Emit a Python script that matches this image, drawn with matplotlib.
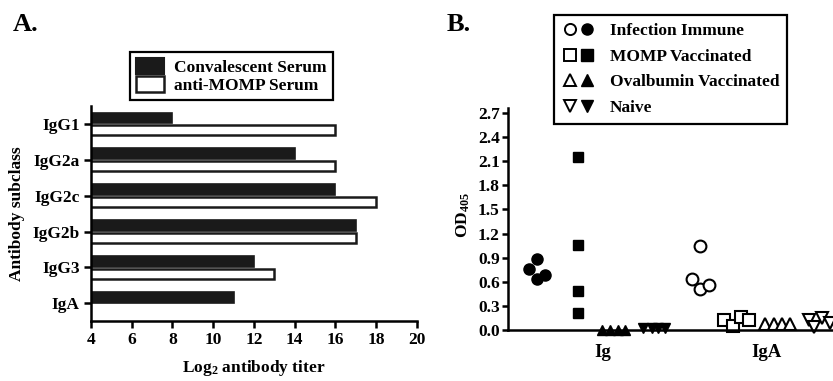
import numpy as np
import matplotlib
matplotlib.use("Agg")
import matplotlib.pyplot as plt
from matplotlib.patches import Patch
from matplotlib.lines import Line2D
from matplotlib.legend_handler import HandlerTuple

plt.rcParams['font.family'] = ['Liberation Serif', 'DejaVu Serif']
plt.rcParams['font.weight'] = 'bold'
plt.rcParams['mathtext.fontset'] = 'custom'
plt.rcParams['mathtext.rm'] = 'Liberation Serif:bold'
plt.rcParams['mathtext.bf'] = 'Liberation Serif:bold'
plt.rcParams['mathtext.default'] = 'bf'

# ---- panel A data ----
subclasses = ['IgG1', 'IgG2a', 'IgG2c', 'IgG2b', 'IgG3', 'IgA']
convalescent = [8, 14, 16, 17, 12, 11]
anti_momp = [16, 16, 18, 17, 13, np.nan]

# ---- panel B data (x = position within plot, y = OD405) ----
b_categories = ['Ig', 'IgA']
b_cat_pos = [1.62, 5.68]

infection_ig_x = [-0.21, 0.0, 0.0, 0.2]
infection_ig_y = [0.76, 0.88, 0.64, 0.68]
momp_ig_x = [1.0, 1.0, 1.0, 1.0]
momp_ig_y = [2.15, 1.06, 0.49, 0.21]
ova_ig_x = [1.60, 1.81, 2.01, 2.18]
ova_ig_y = [0.0, 0.0, 0.0, 0.0]
naive_ig_x = [2.62, 2.84, 2.99, 3.17]
naive_ig_y = [0.02, 0.02, 0.03, 0.02]

infection_iga_x = [3.83, 4.03, 4.03, 4.25]
infection_iga_y = [0.64, 1.04, 0.51, 0.56]
momp_iga_x = [4.63, 4.84, 5.04, 5.25]
momp_iga_y = [0.12, 0.05, 0.16, 0.12]
ova_iga_x = [5.64, 5.85, 6.06, 6.25]
ova_iga_y = [0.08, 0.08, 0.08, 0.08]
naive_iga_x = [6.72, 6.84, 7.05, 7.25]
naive_iga_y = [0.12, 0.04, 0.15, 0.09]

fs = 12.5

fig = plt.figure(figsize=(8.33, 3.81), dpi=100)

# ================= Panel A =================
axA = fig.add_axes([0.109, 0.157, 0.3916, 0.5643])
ypos = np.arange(len(subclasses))[::-1]
axA.barh(ypos + 0.17, convalescent, height=0.30, color='#1a1a1a',
         edgecolor='#1a1a1a', linewidth=1.2)
axA.barh(ypos - 0.17, anti_momp, height=0.28, color='white',
         edgecolor='#1a1a1a', linewidth=1.8)
axA.set_xlim(4, 20)
axA.set_ylim(-0.5, 5.5)
axA.set_xticks(np.arange(4, 21, 2))
axA.set_yticks(ypos)
axA.set_yticklabels(subclasses)
for s in ['top', 'right']:
    axA.spines[s].set_visible(False)
for s in ['left', 'bottom']:
    axA.spines[s].set_linewidth(1.8)
axA.tick_params(width=1.8, length=5, labelsize=fs, pad=3)
axA.set_xlabel(r'Log$_2$ antibody titer', fontsize=fs, fontweight='bold')
axA.xaxis.set_label_coords(0.5, -0.17)
axA.set_ylabel('Antibody subclass', fontsize=fs, fontweight='bold')
axA.yaxis.set_label_coords(-0.203, 0.5)

legA = fig.legend(handles=[Patch(facecolor='#1a1a1a', edgecolor='#1a1a1a', linewidth=1.5),
                           Patch(facecolor='white', edgecolor='#1a1a1a', linewidth=1.8)],
                  labels=['Convalescent Serum', 'anti-MOMP Serum'],
                  loc='upper left', bbox_to_anchor=(130 / 833, 1 - 52 / 381),
                  borderaxespad=0, fancybox=False, framealpha=1, edgecolor='black',
                  prop={'size': fs, 'weight': 'bold'}, handlelength=1.6,
                  handleheight=1.05, labelspacing=0.0, handletextpad=0.6,
                  borderpad=0.35)
legA.get_frame().set_linewidth(1.6)

fig.text(13 / 833, 1 - 31 / 381, 'A.', fontsize=19, fontweight='bold', va='baseline')

# ================= Panel B =================
axB = fig.add_axes([0.61, 0.134, 0.41, 0.5825])
mk = dict(linestyle='none', color='black', clip_on=False)
axB.plot(infection_ig_x, infection_ig_y, marker='o', ms=8, **mk)
axB.plot(momp_ig_x, momp_ig_y, marker='s', ms=7.5, **mk)
axB.plot(ova_ig_x, ova_ig_y, marker='^', ms=7.5, **mk)
axB.plot(naive_ig_x, naive_ig_y, marker='v', ms=7.5, **mk)
op = dict(linestyle='none', color='black', mfc='white', mew=1.5, clip_on=False)
axB.plot(infection_iga_x, infection_iga_y, marker='o', ms=8.5, **op)
axB.plot(momp_iga_x, momp_iga_y, marker='s', ms=8, **op)
axB.plot(ova_iga_x, ova_iga_y, marker='^', ms=8, **op)
axB.plot(naive_iga_x, naive_iga_y, marker='v', ms=8, **op)

axB.set_xlim(-0.72, 7.73)
axB.set_ylim(0, 2.762)
axB.set_yticks(np.arange(0, 2.71, 0.3))
axB.set_yticklabels([f'{v:.1f}' for v in np.arange(0, 2.71, 0.3)])
axB.set_xticks(b_cat_pos)
axB.set_xticklabels(b_categories)
for s in ['top', 'right']:
    axB.spines[s].set_visible(False)
for s in ['left', 'bottom']:
    axB.spines[s].set_linewidth(1.8)
axB.tick_params(axis='y', width=1.8, length=4, labelsize=fs, pad=2)
axB.tick_params(axis='x', length=0, labelsize=fs + 1, pad=10)
axB.set_ylabel(r'OD$_{405}$', fontsize=fs, fontweight='bold')
axB.yaxis.set_label_coords(-0.105, 0.52)

def pair(m):
    return (Line2D([], [], marker=m, linestyle='none', color='black', mfc='white', mew=1.4, ms=8),
            Line2D([], [], marker=m, linestyle='none', color='black', ms=8))

legB = fig.legend(handles=[pair('o'), pair('s'), pair('^'), pair('v')],
                  labels=['Infection Immune', 'MOMP Vaccinated',
                          'Ovalbumin Vaccinated', 'Naive'],
                  handler_map={tuple: HandlerTuple(ndivide=None, pad=0.0)},
                  loc='upper left', bbox_to_anchor=(554 / 833, 1 - 15 / 381),
                  borderaxespad=0, fancybox=False, framealpha=1, edgecolor='black',
                  prop={'size': fs, 'weight': 'bold'}, handlelength=1.9,
                  labelspacing=0.55, handletextpad=0.85, borderpad=0.45)
legB.get_frame().set_linewidth(1.6)

fig.text(447 / 833, 1 - 31 / 381, 'B.', fontsize=19, fontweight='bold', va='baseline')

fig.savefig('out.png', dpi=100)
